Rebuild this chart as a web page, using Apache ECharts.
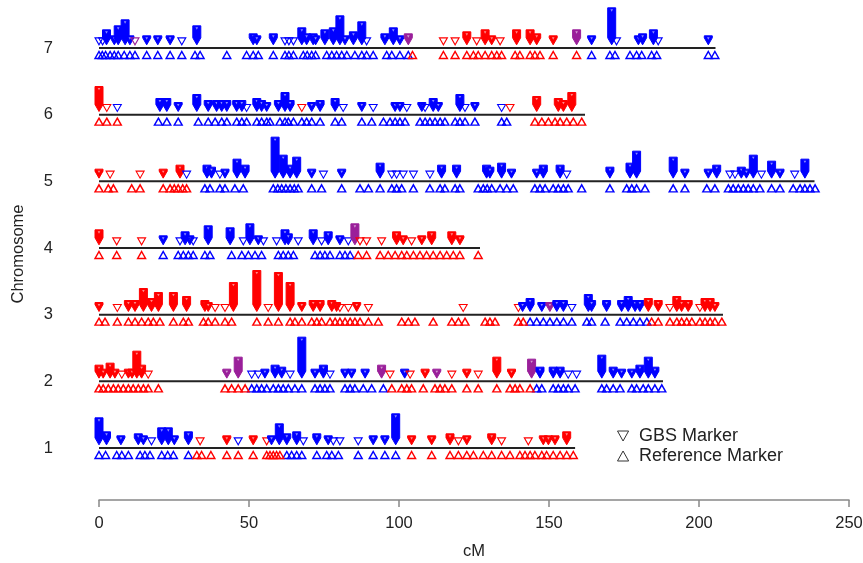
<!DOCTYPE html>
<html>
<head>
<meta charset="utf-8">
<script src="https://cdn.jsdelivr.net/npm/echarts@6/dist/echarts.min.js"></script>
<style>
html,body{margin:0;padding:0;background:#fff;}
#chart{width:863px;height:563px;}
</style>
</head>
<body>
<div id="chart"></div>
<script>
// ---------------- DATA ----------------
const chromosomes = [1, 2, 3, 4, 5, 6, 7];
const chromLength = [158.7, 188, 208, 127, 238.5, 162, 205.5];
const xTicks = [0, 50, 100, 150, 200, 250];

// Reference markers (cM) by group
const ref1 = {
  B: [0, 2.2, 5.9, 7.6, 9.8, 13.7, 15.3, 17, 20.9, 22.9, 24.8, 29.8, 62.6, 64.2, 65.9, 67.6, 72.6, 75.9, 77.6, 79.8, 86.4, 91.4, 95.3, 98.9],
  R: [32.6, 34.2, 37.3, 42.6, 46.4, 51.4, 55.9, 57, 58.1, 59.2, 60.3, 104.2, 110.9, 117, 119.8, 122.6, 124.8, 128.1, 130.9, 134.2, 137, 140.3, 142, 143.7, 145.3, 147.6, 149.2, 151.4, 153.7, 155.9, 158.1]
};
const ref2 = {
  B: [50.9, 52.6, 54.2, 55.9, 58.1, 59.8, 61.4, 63.1, 65.3, 67.6, 72, 73.7, 75.3, 77, 82, 83.7, 85.3, 88.1, 90.9, 94.8, 145.9, 147.6, 151.4, 153.1, 154.8, 156.4, 158.7, 167.6, 169.2, 171.4, 173.7, 177.6, 179.2, 181.4, 183.1, 185.3, 187.6],
  R: [0, 1.4, 3.1, 4.8, 6.4, 8.1, 9.8, 11.4, 13.1, 14.8, 16.4, 19.8, 42, 44.2, 46.4, 48.7, 97.6, 100.9, 102.6, 104.2, 108.1, 112, 113.7, 115.3, 117.6, 122.6, 126.4, 132.6, 137, 138.7, 140.3, 143.7]
};
const ref3 = {
  B: [143.7, 145.9, 148.1, 150.3, 152.6, 154.8, 157.6, 162.6, 164.2, 168.7, 173.7, 175.9, 178.1, 180.3, 182.6],
  R: [0, 2, 6.1, 9.8, 12, 14.2, 16.4, 18.1, 20.3, 24.8, 28.1, 29.8, 34.8, 36.4, 38.7, 42, 44.2, 52.6, 56.4, 59.8, 63.7, 65.3, 67.6, 70.9, 72.6, 74.2, 77, 78.7, 80.3, 82, 83.7, 85.3, 87, 89.8, 93.1, 100.9, 103.1, 105.3, 111.4, 117.6, 119.8, 122, 128.7, 130.3, 132, 139.8, 141.4, 184.2, 186.4, 190.3, 192.6, 194.2, 195.9, 197.6, 200.3, 202, 203.7, 205.3, 207.6]
};
const ref4 = {
  B: [21.4, 26.4, 28.1, 29.8, 31.4, 35.3, 37, 44.2, 47.6, 49.8, 52, 54.2, 59.8, 61.4, 63.1, 64.8, 72, 73.7, 75.3, 77, 80.3, 82, 83.7],
  R: [0, 5.9, 14.2, 86.4, 89.2, 93.7, 96.4, 98.7, 100.9, 102.6, 104.8, 107, 109.2, 111.4, 113.7, 115.9, 118.1, 120.3, 126.4]
};
const ref5 = {
  B: [35.3, 37, 40.3, 42, 45.3, 48.1, 58.1, 59.6, 60.9, 62.3, 63.7, 65.1, 66.4, 70.9, 74.2, 80.9, 87, 89.8, 93.7, 97.6, 99.2, 100.9, 104.8, 110.3, 113.7, 115.3, 118.7, 120.3, 126.4, 128.1, 129.4, 130.9, 133.7, 135.9, 138.1, 145.3, 147, 148.7, 151.4, 153.1, 154.8, 156.4, 160.9, 170.3, 175.9, 177.6, 179.2, 182, 191.4, 195.3, 202.6, 205.3, 209.8, 211.4, 213.1, 214.8, 216.4, 218.1, 220.3, 224.2, 227, 231.4, 233.7, 235.3, 237, 238.7],
  R: [0, 3.1, 4.8, 10.9, 13.7, 21.4, 23.7, 25.1, 26.4, 27.9, 29.2]
};
const ref6 = {
  B: [19.8, 22.6, 26.4, 33.1, 36.4, 38.7, 40.9, 42.6, 45.9, 47.6, 49.2, 52.6, 54.2, 55.9, 57, 60.3, 62, 63.1, 64.8, 67.6, 69.2, 70.9, 73.7, 78.7, 80.9, 87.6, 90.9, 94.8, 97, 98.7, 100.3, 102, 107, 108.7, 110.3, 112, 113.7, 115.3, 118.7, 120.3, 122, 125.3, 134.2, 135.9],
  R: [0, 2.6, 6.1, 145.3, 147.6, 149.8, 152, 153.7, 155.9, 158.1, 160.9]
};
const ref7 = {
  B: [0, 1.1, 2.2, 3.7, 5.1, 6.4, 8.4, 10.3, 12, 15.9, 19.6, 23.7, 27.6, 32, 33.7, 42.6, 49.2, 51.4, 53.1, 58.1, 62, 63.3, 64.8, 68.1, 69.4, 70.9, 72.2, 75.9, 77.6, 79.2, 80.9, 82.6, 85.3, 87.6, 89.2, 91.4, 95.9, 97.6, 100.3, 103.1, 164.2, 170.3, 172, 177, 179.2, 180.9, 184.2, 185.9, 203.1, 205.3],
  R: [104.5, 114.8, 118.7, 122.6, 124.8, 126.4, 128.7, 130.9, 132.6, 134.2, 138.7, 140.3, 143.7, 145.3, 147, 151.4, 159.2]
};

// GBS markers: [cM, number of GBS markers stacked, group]
const gbs1 = [[0,11,'B'],[2.5,4,'B'],[7.3,2,'B'],[13.1,3,'B'],[14.8,2,'B'],[17.5,1,'B'],[20.9,6,'B'],[23.1,6,'B'],[25.1,2,'B'],[29.8,4,'B'],[33.7,1,'R'],[42.6,2,'R'],[46.4,1,'B'],[51.4,2,'R'],[55.9,1,'R'],[57.5,2,'B'],[60.1,8,'B'],[62.6,3,'B'],[65.9,4,'B'],[68.1,1,'B'],[72.6,3,'B'],[76.4,2,'B'],[78.1,1,'B'],[80.3,1,'B'],[86.4,1,'B'],[91.4,2,'B'],[95.3,2,'B'],[98.9,13,'B'],[104.2,2,'R'],[110.9,2,'R'],[117,3,'R'],[119.8,1,'R'],[122.6,2,'R'],[130.9,3,'R'],[134.2,1,'R'],[143.1,1,'R'],[148.1,2,'R'],[149.8,2,'R'],[152,2,'R'],[155.9,4,'R']];
const gbs2 = [[0,4,'R'],[1.4,2,'R'],[3.7,5,'R'],[5.3,2,'R'],[7.6,1,'R'],[9.8,2,'R'],[11,2,'R'],[12.6,11,'R'],[14.2,4,'R'],[16.4,1,'R'],[42.6,2,'P'],[46.4,8,'P'],[50.9,1,'B'],[53.1,1,'B'],[55.3,2,'B'],[58.7,4,'B'],[60.9,3,'B'],[63.7,1,'B'],[67.6,18,'B'],[72,2,'B'],[74.8,4,'B'],[77,1,'B'],[82,2,'B'],[84.2,2,'B'],[88.7,2,'B'],[94.2,4,'P'],[97,1,'R'],[101.9,2,'B'],[103.7,1,'R'],[108.7,2,'R'],[112.6,2,'P'],[117.6,1,'R'],[122.6,2,'R'],[126.4,1,'R'],[132.6,8,'R'],[137.5,2,'R'],[144.2,7,'P'],[147,3,'B'],[151.4,3,'B'],[153.7,3,'B'],[156.4,1,'B'],[159.2,1,'B'],[167.6,9,'B'],[171.4,3,'B'],[174.2,2,'B'],[177.6,2,'B'],[180.3,4,'B'],[183.1,8,'B'],[185.3,3,'B']];
const gbs3 = [[0,2,'R'],[6.1,1,'R'],[9.8,3,'R'],[12,3,'R'],[14.8,9,'R'],[17.5,4,'R'],[19.8,7,'R'],[24.8,7,'R'],[29.2,5,'R'],[35.3,3,'R'],[36.4,2,'R'],[38.7,1,'R'],[42,1,'R'],[44.8,12,'R'],[52.6,18,'R'],[56.4,1,'R'],[59.8,17,'R'],[63.7,12,'R'],[67.6,2,'R'],[71.4,3,'R'],[73.7,3,'R'],[77.6,3,'R'],[79.2,2,'R'],[80.3,1,'R'],[83.1,1,'R'],[85.9,2,'R'],[89.8,1,'R'],[121.4,1,'R'],[139.8,1,'R'],[141.2,2,'B'],[143.7,4,'B'],[147.6,2,'B'],[150.3,2,'P'],[152.6,3,'B'],[154.8,3,'B'],[157.6,1,'B'],[163.1,6,'B'],[164.2,3,'B'],[169.2,3,'B'],[174.2,3,'B'],[176.4,5,'B'],[178.7,3,'B'],[180.3,3,'B'],[183.1,4,'R'],[186.4,3,'R'],[190.3,1,'R'],[192.6,5,'R'],[194.2,3,'R'],[196.4,3,'R'],[200.3,1,'R'],[202,4,'R'],[203.7,4,'R'],[205.3,2,'R']];
const gbs4 = [[0,5,'R'],[5.9,1,'R'],[14.2,1,'R'],[21.4,2,'B'],[27,1,'B'],[28.7,4,'B'],[30.3,2,'B'],[31.4,1,'B'],[36.4,7,'B'],[43.7,6,'B'],[48.1,1,'B'],[50.3,8,'B'],[53.1,2,'B'],[54.8,1,'B'],[59.2,1,'B'],[62,5,'B'],[63.1,3,'B'],[66.4,1,'B'],[71.4,5,'B'],[74.2,1,'B'],[76.4,4,'B'],[80.3,2,'B'],[83.1,1,'B'],[85.3,8,'P'],[87,1,'R'],[89.2,1,'R'],[94.2,1,'R'],[99.2,4,'R'],[101.4,2,'R'],[104.2,1,'R'],[107.6,2,'R'],[110.9,4,'R'],[117.6,4,'R'],[120.3,2,'R']];
const gbs5 = [[0,2,'R'],[3.7,1,'R'],[13.7,1,'R'],[21.4,2,'R'],[27,4,'R'],[29.2,1,'B'],[36,4,'B'],[37.5,3,'B'],[40.3,1,'B'],[42,2,'B'],[46,7,'B'],[48.7,4,'B'],[58.7,18,'B'],[61.4,9,'B'],[63.7,4,'B'],[65.9,8,'B'],[70.9,2,'B'],[74.8,1,'B'],[80.9,2,'B'],[93.7,5,'B'],[97.6,1,'B'],[99.2,1,'B'],[101.4,1,'B'],[104.8,1,'B'],[110.3,1,'B'],[114.2,4,'B'],[119.2,4,'B'],[129.2,4,'B'],[130.3,3,'B'],[134.2,5,'B'],[137.5,2,'B'],[145.9,2,'B'],[148.1,4,'B'],[153.7,4,'B'],[155.9,1,'B'],[170.3,3,'B'],[177,5,'B'],[179.2,11,'B'],[191.4,8,'B'],[195.3,2,'B'],[203.1,2,'B'],[205.9,4,'B'],[210.3,1,'B'],[212,1,'B'],[214.1,3,'B'],[215.8,2,'B'],[218.1,9,'B'],[220.8,1,'B'],[224.2,6,'B'],[227,2,'B'],[231.9,1,'B'],[235.3,7,'B']];
const gbs6 = [[0,10,'R'],[2.6,1,'R'],[6.1,1,'B'],[20.3,4,'B'],[22.6,4,'B'],[26.4,2,'B'],[32.6,6,'B'],[36.4,3,'B'],[39.2,3,'B'],[40.9,3,'B'],[42.6,3,'B'],[45.9,3,'B'],[47.6,3,'B'],[49.2,1,'B'],[52.6,4,'B'],[54.2,3,'B'],[55.9,2,'B'],[59.8,3,'B'],[62,7,'B'],[63.7,3,'B'],[67.6,1,'R'],[70.9,2,'B'],[73.7,3,'B'],[78.7,4,'B'],[81.4,1,'B'],[87.6,2,'B'],[91.4,1,'B'],[98.7,2,'B'],[100.3,2,'B'],[102.6,1,'B'],[107.6,2,'B'],[108.7,1,'B'],[111.4,4,'B'],[113.1,2,'B'],[120.3,6,'B'],[122,1,'B'],[125.3,2,'B'],[134.2,1,'B'],[137,1,'R'],[145.9,5,'R'],[153.1,4,'R'],[154.8,3,'R'],[157.6,7,'R']];
const gbs7 = [[0,1,'B'],[1.2,1,'B'],[2.5,5,'B'],[5.1,2,'B'],[6.4,7,'B'],[8.7,10,'B'],[10.3,2,'B'],[12,1,'P'],[15.9,2,'B'],[19.6,2,'B'],[23.7,2,'B'],[27.6,1,'B'],[32.6,7,'B'],[51.4,3,'B'],[52.6,2,'B'],[58.1,3,'B'],[62,1,'B'],[63.3,1,'B'],[64.8,1,'B'],[67.6,6,'B'],[69.2,3,'B'],[71.4,3,'B'],[72.2,2,'B'],[75.3,5,'B'],[78.1,6,'B'],[80.3,12,'B'],[82,2,'B'],[84.8,4,'B'],[87.6,9,'B'],[89.2,1,'B'],[95.3,3,'B'],[98.1,6,'B'],[100.3,2,'B'],[103.1,3,'P'],[114.8,1,'R'],[118.7,1,'R'],[122.6,4,'R'],[125.9,1,'R'],[128.7,5,'R'],[130.9,2,'R'],[133.7,1,'R'],[139.2,5,'R'],[143.7,5,'R'],[145.9,3,'R'],[151.4,2,'R'],[159.2,5,'P'],[164.2,2,'B'],[170.9,16,'B'],[172.5,1,'B'],[179.8,2,'B'],[181.2,3,'B'],[184.8,5,'B'],[186.4,1,'B'],[203.1,2,'B']];

const refSets = [ref1, ref2, ref3, ref4, ref5, ref6, ref7];
const gbsSets = [gbs1, gbs2, gbs3, gbs4, gbs5, gbs6, gbs7];

// ---------------- STYLE ----------------
const GROUPS = ['B', 'R', 'P'];
const GROUP_COLORS = { B: '#0000ff', R: '#ff0000', P: '#9a1f9a' };
const REF_OFFSET = 0.105;   // reference triangles drawn just below the line
const GBS_OFFSET = 0.10;    // GBS triangles drawn just above the line
const STACK_STEP = 0.03;    // vertical offset per additional stacked GBS marker
const TRI_HW = 4, TRI_HH = 3.5;

const refData = [];
const gbsData = [];
chromosomes.forEach((c, i) => {
  const ref = refSets[i];
  ['B', 'R'].forEach(g => {
    ref[g].forEach(p => refData.push({ value: [p, c - REF_OFFSET], itemStyle: { borderColor: GROUP_COLORS[g] } }));
  });
  gbsSets[i].forEach(([p, n, g]) => {
    gbsData.push([p, c + GBS_OFFSET, n, GROUPS.indexOf(g)]);
  });
});

const lineSeries = chromosomes.map((c, i) => ({
  type: 'line',
  data: [[0, c], [chromLength[i], c]],
  symbol: 'none',
  silent: true,
  z: 1,
  lineStyle: { color: '#222', width: 2 },
  animation: false
}));

function renderGbs(params, api) {
  const x = api.value(0), yb = api.value(1), n = api.value(2);
  const color = GROUP_COLORS[GROUPS[api.value(3)]];
  const base = api.coord([x, yb]);
  const top = api.coord([x, yb + (n - 1) * STACK_STEP]);
  const cx = base[0];
  if (n <= 1) {
    return {
      type: 'polygon',
      shape: { points: [[cx - TRI_HW, base[1] - TRI_HH], [cx + TRI_HW, base[1] - TRI_HH], [cx, base[1] + TRI_HH]] },
      style: { fill: 'none', stroke: color, lineWidth: 1.1 }
    };
  }
  return {
    type: 'group',
    children: [
      {
        type: 'polygon',
        shape: { points: [
          [cx - TRI_HW, top[1] - TRI_HH], [cx + TRI_HW, top[1] - TRI_HH],
          [cx + TRI_HW, base[1] - TRI_HH], [cx, base[1] + TRI_HH], [cx - TRI_HW, base[1] - TRI_HH]
        ] },
        style: { fill: color, stroke: color, lineWidth: 1 }
      },
      {
        type: 'polygon',
        shape: { points: [[cx - 1.3, top[1] - 2], [cx + 1.3, top[1] - 2], [cx, top[1] + 0.3]] },
        style: { fill: 'rgba(255,255,255,0.55)' }
      }
    ]
  };
}

const FONT = 'Liberation Sans, Arial, Helvetica, sans-serif';

const chart = echarts.init(document.getElementById('chart'), null, { renderer: 'canvas' });
chart.setOption({
  animation: false,
  backgroundColor: '#fff',
  grid: { left: 99, right: 14, top: 8, bottom: 63, containLabel: false, outerBoundsMode: 'none' },
  xAxis: {
    type: 'value',
    min: 0, max: 250, interval: 50,
    name: 'cM',
    nameLocation: 'middle',
    nameGap: 43,
    nameTextStyle: { fontFamily: FONT, fontSize: 16.5, color: '#222' },
    axisLine: { show: true, onZero: false, lineStyle: { color: '#888', width: 1.5 } },
    axisTick: { show: true, length: 7, lineStyle: { color: '#888', width: 1.5 } },
    axisLabel: { fontFamily: FONT, fontSize: 16.5, color: '#222', margin: 15,
      customValues: xTicks },
    splitLine: { show: false }
  },
  yAxis: {
    type: 'value',
    min: 0.22, max: 7.6,
    name: 'Chromosome',
    nameLocation: 'middle',
    nameGap: 72,
    nameTextStyle: { fontFamily: FONT, fontSize: 16.5, color: '#222' },
    axisLine: { show: false },
    axisTick: { show: false },
    axisLabel: { fontFamily: FONT, fontSize: 16.5, color: '#222', margin: 46,
      customValues: chromosomes },
    splitLine: { show: false }
  },
  legend: {
    orient: 'vertical',
    left: 612, top: 422,
    itemWidth: 12, itemHeight: 10,
    itemGap: 2,
    selectedMode: false,
    textStyle: { fontFamily: FONT, fontSize: 18, lineHeight: 18, color: '#222', padding: [0, 0, 0, 5] },
    itemStyle: { color: 'rgba(0,0,0,0)', borderColor: '#333', borderWidth: 1 },
    data: [
      { name: 'GBS Marker', icon: 'path://M0,0L10,0L5,9Z' },
      { name: 'Reference Marker', icon: 'path://M5,0L10,9L0,9Z' }
    ]
  },
  series: [
    ...lineSeries,
    {
      name: 'Reference Marker',
      type: 'scatter',
      symbol: 'triangle',
      symbolSize: [8, 7],
      large: false,
      z: 3,
      itemStyle: { color: 'rgba(0,0,0,0)', borderWidth: 1.4, opacity: 1 },
      data: refData
    },
    {
      name: 'GBS Marker',
      type: 'custom',
      renderItem: renderGbs,
      encode: { x: 0, y: 1 },
      z: 3,
      itemStyle: { color: '#333' },
      data: gbsData
    }
  ]
});
</script>
</body>
</html>
